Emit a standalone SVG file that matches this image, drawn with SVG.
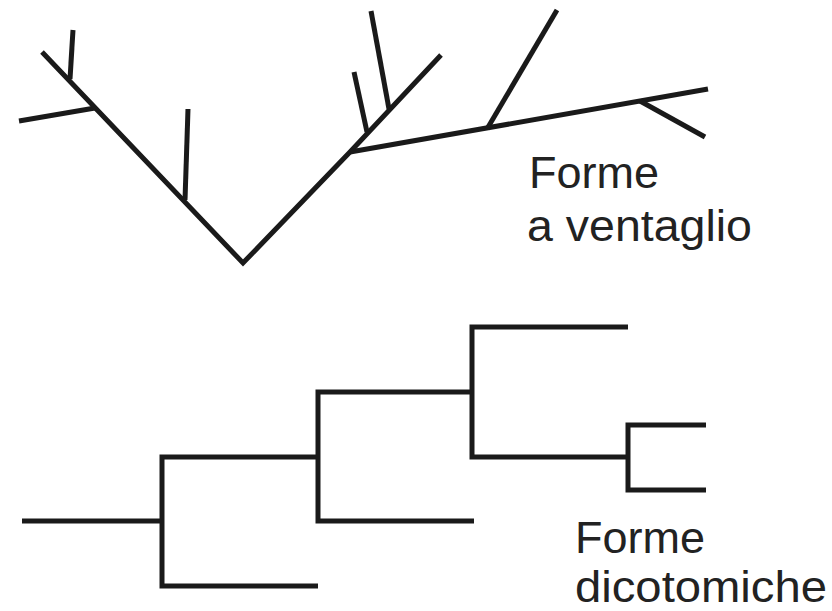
<svg xmlns="http://www.w3.org/2000/svg" width="832" height="611" viewBox="0 0 832 611">
<style>
.br{fill:none;stroke:#1a1a1a;stroke-width:5;stroke-linecap:butt;stroke-linejoin:miter}
.lbl{font-family:"Liberation Sans",Arial,Helvetica,sans-serif;font-size:45px;fill:#222}
</style>
<rect width="832" height="611" fill="#fff"/>
<g id="connectors">
<g id="fan-tree">
<polyline class="br" points="42,52 243,263 350,152 441,55"/>
<line class="br" x1="70" y1="79" x2="73" y2="30"/>
<line class="br" x1="95" y1="108" x2="19" y2="121"/>
<line class="br" x1="185" y1="200" x2="188" y2="109"/>
<line class="br" x1="367" y1="132" x2="354" y2="72"/>
<line class="br" x1="389" y1="109" x2="371" y2="11"/>
<line class="br" x1="350" y1="152" x2="708" y2="89"/>
<line class="br" x1="487" y1="129" x2="557" y2="10"/>
<line class="br" x1="640" y1="101" x2="705" y2="137"/>
</g>
<g id="dichotomous-tree">
<line class="br" x1="22" y1="521" x2="162" y2="521"/>
<polyline class="br" points="318,457 162,457 162,586 318,586"/>
<polyline class="br" points="472,392 318,392 318,521 474,521"/>
<polyline class="br" points="628,327 472,327 472,457 628,457"/>
<polyline class="br" points="706,425 628,425 628,490 706,490"/>
</g>
</g>
<g id="label-fan">
<text class="lbl" x="529" y="188">Forme</text>
<text class="lbl" x="527" y="241" textLength="225" lengthAdjust="spacingAndGlyphs">a ventaglio</text>
</g>
<g id="label-dicho">
<text class="lbl" x="575" y="553">Forme</text>
<text class="lbl" x="575" y="602" font-size="44" textLength="252" lengthAdjust="spacingAndGlyphs">dicotomiche</text>
</g>
</svg>
